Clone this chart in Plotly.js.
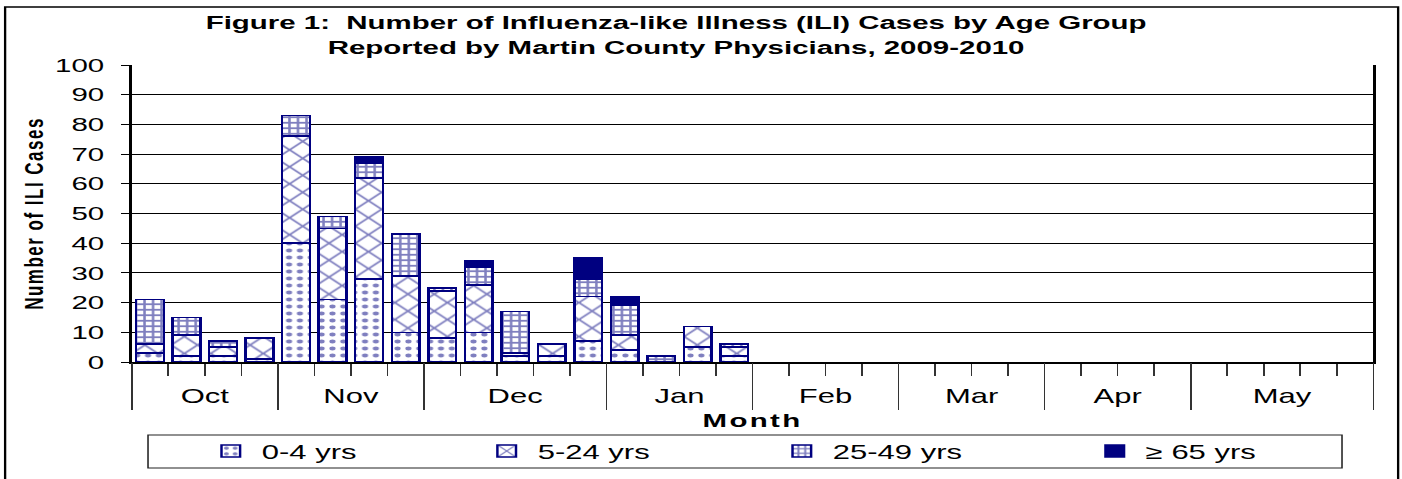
<!DOCTYPE html>
<html><head><meta charset="utf-8">
<script src="https://cdn.plot.ly/plotly-3.0.1.min.js"></script>
<style>
html,body{margin:0;padding:0;overflow:hidden;background:#fff;}
#chart{width:905px;height:479px;transform:scaleX(1.55);transform-origin:0 0;}
#chart text.ytitle{letter-spacing:1.5px;}
#chart text.xtitle{letter-spacing:1.5px;}
</style></head><body><div id="chart"></div>
<script>
// ---- data ----
const months = ["Oct","Nov","Dec","Jan","Feb","Mar","Apr","May"];
const weeksPerMonth = [4,4,5,4,4,4,4,5];
const seriesNames = ["0-4 yrs","5-24 yrs","25-49 yrs","\u2265 65 yrs"];
const age0to4   = [3,2,2,1,40,21,28,10,8,10,2,2,7,4,0,5,2];
const age5to24  = [3,7,3,7,36,24,34,19,16,16,1,4,15,5,0,7,3];
const age25to49 = [15,6,2,0,7,4,5,14,1,6,14,0,6,10,2,0,1];
const age65plus = [0,0,0,0,0,0,2,0,0,2,0,0,7,3,0,0,0];
const seriesValues = [age0to4, age5to24, age25to49, age65plus];

// ---- derived categories ----
const weeks = [];
months.forEach((m,i)=>{ for(let w=1; w<=weeksPerMonth[i]; w++) weeks.push(m+" wk"+w); });
const boundaries = [-0.5], centers = [];
let acc = 0;
weeksPerMonth.forEach(n=>{ centers.push(acc + (n-1)/2); acc += n; boundaries.push(acc - 0.5); });
const xr = [-0.5, weeks.length - 0.5];

const navy = '#000080';
const patterns = [
  {shape:'.', size:7, solidity:0.25},
  {shape:'x', size:12, solidity:0.24},
  {shape:'+', size:5.5, solidity:0.5},
  null
];
const legendIds = ['legend','legend2','legend3','legend4'];
const iconLeft = [143.9, 321.9, 512.3, 714.2];

const data = seriesValues.map((vals,i)=>{
  const marker = {color: i===3 ? navy : 'white', line:{color:navy, width:1.6}};
  if (patterns[i]) marker.pattern = Object.assign({fgcolor:navy, bgcolor:'white', fillmode:'overlay'}, patterns[i]);
  return {
    type:'bar', name:seriesNames[i], x:weeks.slice(0, vals.length),
    y:vals.map(v=> v===0 ? null : v), marker, legend:legendIds[i], hoverinfo:'x+y+name'
  };
});
data.push({type:'scatter', x:[centers[0]], y:[null], xaxis:'x2', showlegend:false, hoverinfo:'skip'});
data.push({type:'scatter', x:[centers[0]], y:[null], xaxis:'x3', showlegend:false, hoverinfo:'skip'});

const legends = {};
legendIds.forEach((id,i)=>{
  legends[id] = {orientation:'h', xref:'container', yref:'container', x:(iconLeft[i]-15)/905, xanchor:'left',
    y:1-451/479, yanchor:'middle', bgcolor:'rgba(0,0,0,0)', borderwidth:0, font:{size:20, color:'#000'}};
});

const layout = Object.assign({
  width:905, height:479, margin:{l:85, r:19, t:65, b:117, pad:0},
  paper_bgcolor:'#fff', plot_bgcolor:'#fff',
  font:{family:'Liberation Sans, Arial, sans-serif', color:'#000'},
  barmode:'stack', bargap:0.24,
  title:{text:'Figure 1:  Number of Influenza-like Illness (ILI) Cases by Age Group<br>Reported by Martin County Physicians, 2009-2010',
    font:{size:19, weight:700, color:'#000'}, x:0.482, xanchor:'center', xref:'container', y:1-29/479, yanchor:'top', yref:'container'},
  xaxis:{type:'category', categoryorder:'array', categoryarray:weeks, range:xr, tickson:'boundaries',
    ticks:'outside', ticklen:12, tickwidth:1, tickcolor:'#333', showticklabels:false,
    showline:true, linecolor:'#000', linewidth:2, showgrid:false, zeroline:false, fixedrange:true, automargin:false,
    title:{text:'<b>Month</b>', font:{size:19}, standoff:53}},
  xaxis2:{overlaying:'x', anchor:'y', side:'bottom', type:'linear', range:xr, tickmode:'array', tickvals:boundaries,
    ticks:'outside', ticklen:47, tickwidth:1, tickcolor:'#333', showticklabels:false, showgrid:false, zeroline:false, showline:false, automargin:false},
  xaxis3:{overlaying:'x', anchor:'y', side:'bottom', type:'linear', range:xr, tickmode:'array', tickvals:centers, ticktext:months,
    ticks:'outside', ticklen:16, tickcolor:'rgba(0,0,0,0)', tickfont:{size:20}, showgrid:false, zeroline:false, showline:false, automargin:false},
  yaxis:{range:[0,100], dtick:10, tick0:0, ticks:'outside', ticklen:5, tickwidth:1, tickcolor:'#000', tickfont:{size:19},
    ticklabelstandoff:7, showline:true, linewidth:2, linecolor:'#000', mirror:true, showgrid:true, gridcolor:'#000', gridwidth:1,
    zeroline:false, automargin:false, fixedrange:true, title:{text:'<b>Number of ILI Cases</b>', font:{size:17}, standoff:3}},
  shapes:[
    {type:'rect', xref:'paper', yref:'paper', x0:-0.102, x1:1.020, y0:-0.45, y1:1.195, line:{color:'#000', width:1.5}, fillcolor:'rgba(0,0,0,0)', layer:'above'},
    {type:'rect', xref:'paper', yref:'paper', x0:0.0131, x1:0.9748, y0:-0.357, y1:-0.2458, line:{color:'#222', width:1}, fillcolor:'rgba(0,0,0,0)', layer:'above'}
  ]
}, legends);

Plotly.newPlot('chart', data, layout, {displayModeBar:false, staticPlot:true});
</script></body></html>
